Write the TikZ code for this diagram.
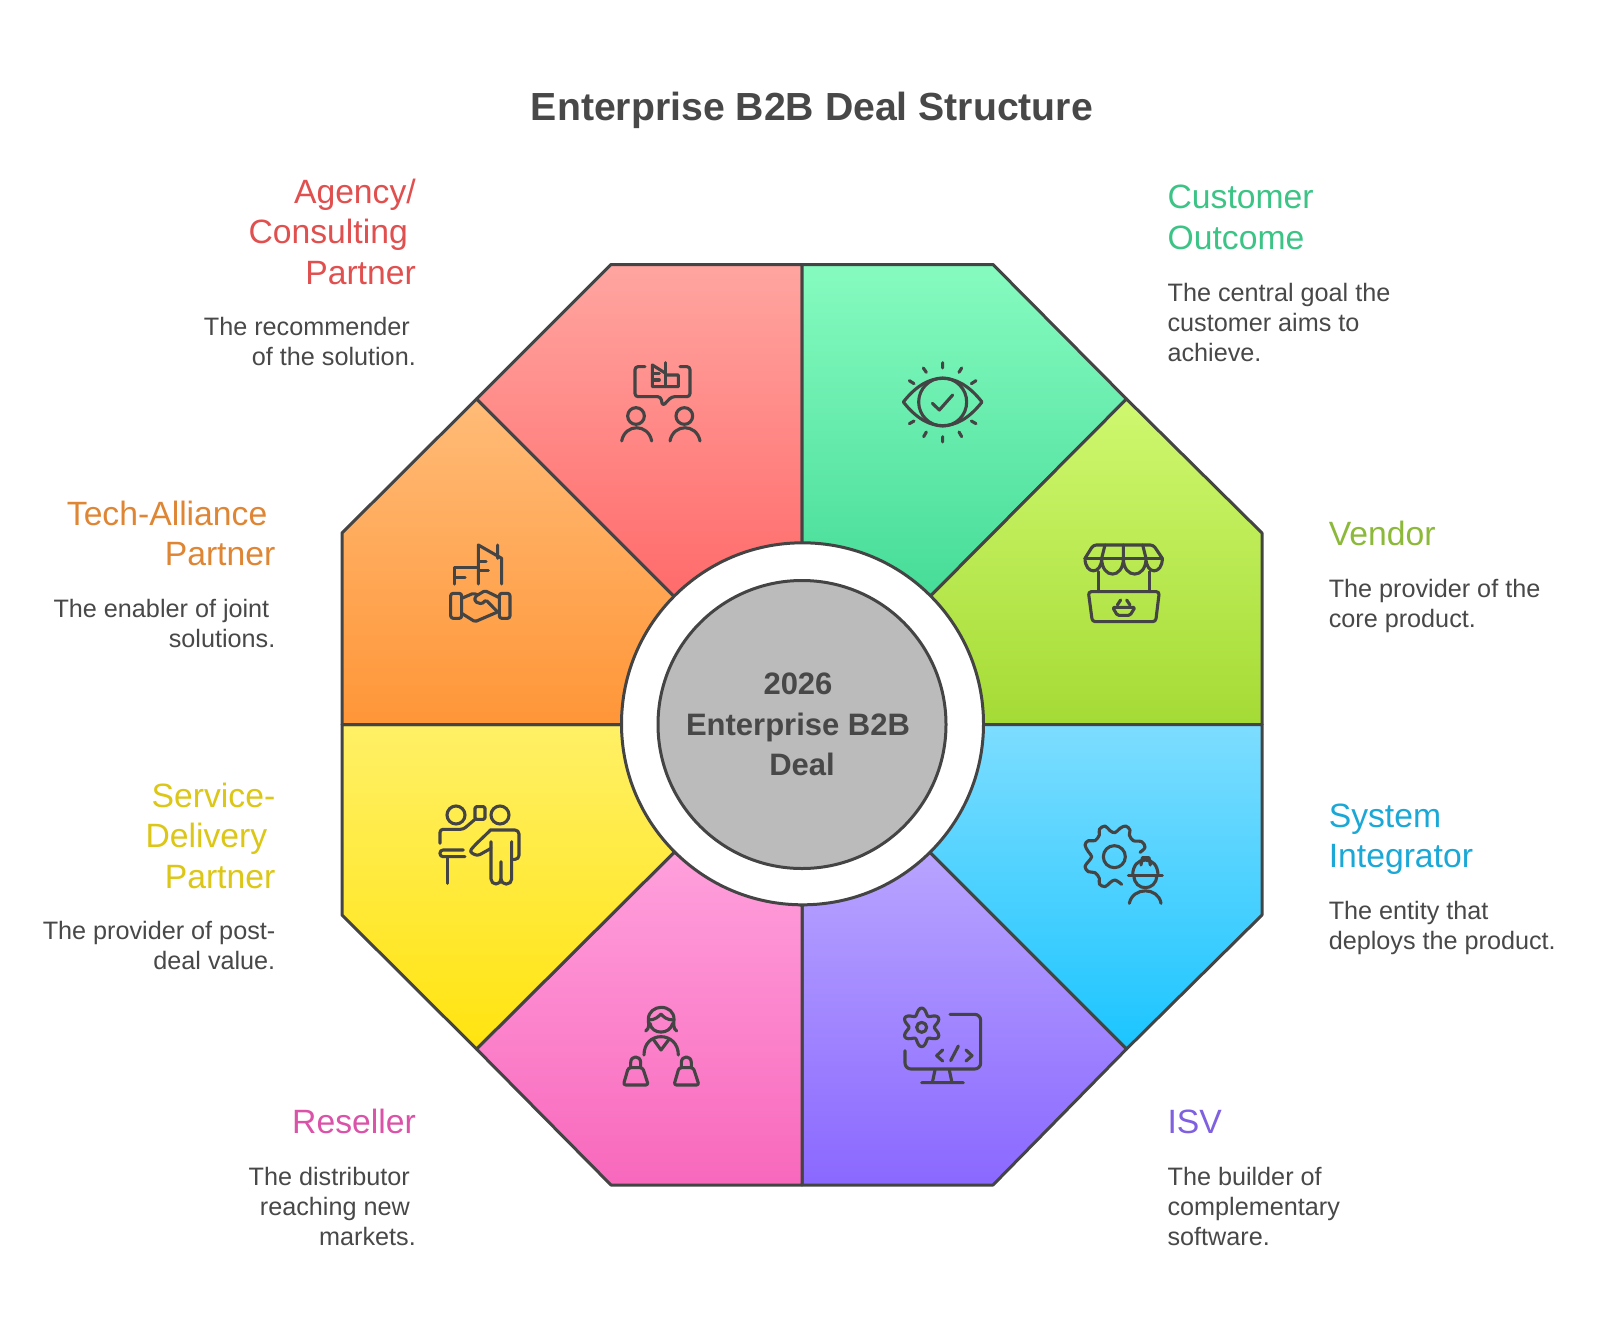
\documentclass[tikz,border=0pt]{standalone}
\usepackage{fontspec}
\setmainfont{Liberation Sans}
\newcommand{\titlefont}{\fontsize{39.2}{48}\bfseries\selectfont}
\newcommand{\hubfont}{\fontsize{31}{40.3}\bfseries\selectfont}
\newcommand{\labfont}{\fontsize{33.7}{40.3}\selectfont}
\newcommand{\descfont}{\fontsize{25.2}{30}\selectfont}
\definecolor{ink}{HTML}{444444}
\definecolor{txt}{HTML}{484848}
\definecolor{hubgray}{HTML}{BBBBBB}
\definecolor{redT}{RGB}{255,165,160}\definecolor{redB}{RGB}{255,107,107}\definecolor{redL}{RGB}{224,80,79}
\definecolor{greenT}{RGB}{134,251,192}\definecolor{greenB}{RGB}{70,220,152}\definecolor{greenL}{RGB}{60,196,134}
\definecolor{limeT}{RGB}{207,248,111}\definecolor{limeB}{RGB}{165,219,53}\definecolor{limeL}{RGB}{141,185,58}
\definecolor{blueT}{RGB}{125,221,255}\definecolor{blueB}{RGB}{27,197,255}\definecolor{blueL}{RGB}{28,168,214}
\definecolor{purpT}{RGB}{184,164,255}\definecolor{purpB}{RGB}{138,104,255}\definecolor{purpL}{RGB}{126,96,224}
\definecolor{pinkT}{RGB}{255,160,220}\definecolor{pinkB}{RGB}{248,104,188}\definecolor{pinkL}{RGB}{219,83,168}
\definecolor{yellT}{RGB}{255,240,102}\definecolor{yellB}{RGB}{255,228,15}\definecolor{yellL}{RGB}{220,198,22}
\definecolor{oranT}{RGB}{255,187,119}\definecolor{oranB}{RGB}{255,150,56}\definecolor{oranL}{RGB}{223,134,53}
\tikzset{
  x=1pt,y=-1pt,
  sector/.style={draw=ink,line width=3pt,line join=round,top color=#1T,bottom color=#1B},
  icon/.style={shift={(#1)},scale=1/3,x=1pt,y=-1pt,draw=ink,line width=3.1pt,line cap=round,line join=round},
  lab/.style={font=\labfont,inner sep=0pt,text=#1},
  descr/.style={font=\descfont,inner sep=0pt,text=txt},
  lefttext/.style={anchor=north west,align=left},
  righttext/.style={anchor=north east,align=right},
}
\begin{document}
\begin{tikzpicture}
\useasboundingbox (0,0) rectangle (1600,1333);
\fill[white] (0,0) rectangle (1600,1333);
\coordinate (C) at (802.5,723.8);
\coordinate (H) at (802,724.5);
% sectors
\path[sector=red] (802,264.5) -- (611,264.5) -- (476.5,399) -- (674,596.5) -- (802,543.5) -- cycle;
\path[sector=green] (802,264.5) -- (993,264.5) -- (1126.5,399) -- (930,596.5) -- (802,543.5) -- cycle;
\path[sector=lime] (1126.5,399) -- (1262,533) -- (1262,724.5) -- (983,724.5) -- (930,596.5) -- cycle;
\path[sector=blue] (1262,724.5) -- (1262,915) -- (1126.5,1049) -- (930,852.5) -- (983,724.5) -- cycle;
\path[sector=purp] (1126.5,1049) -- (993,1185) -- (802,1185) -- (802,905.5) -- (930,852.5) -- cycle;
\path[sector=pink] (802,1185) -- (611,1185) -- (476.5,1049) -- (674,852.5) -- (802,905.5) -- cycle;
\path[sector=yell] (476.5,1049) -- (342,915) -- (342,724.5) -- (621,724.5) -- (674,852.5) -- cycle;
\path[sector=oran] (342,724.5) -- (342,533) -- (476.5,399) -- (674,596.5) -- (621,724.5) -- cycle;
\draw[ink,line width=3pt,fill=white] (C) circle (181);
\node[circle,draw=ink,line width=3pt,fill=hubgray,minimum size=288pt,inner sep=0pt,font=\hubfont,text=txt,align=center] (hub) at (H) {2026\kern8pt\\Enterprise B2B\kern8pt\\Deal};
% title
\node[font=\titlefont,text=txt,inner sep=0pt,anchor=base] (title) at (812,120) {Enterprise B2B Deal Structure};
% labels
\node[lab=redL,righttext] (agency) at (416,175) {\strut Agency/\\Consulting\kern8pt\\Partner};
\node[descr,righttext] (agencyd) at (416,314.5) {\strut The recommender\kern6pt\\of the solution.};
\node[lab=greenL,lefttext] (cust) at (1167.4,180.3) {\strut Customer\\Outcome};
\node[descr,lefttext] (custd) at (1167.4,280) {\strut The central goal the\\customer aims to\\achieve.};
\node[lab=limeL,lefttext] (vendor) at (1328.6,517) {\strut Vendor};
\node[descr,lefttext] (vendord) at (1328.6,576) {\strut The provider of the\\core product.};
\node[lab=blueL,lefttext] (si) at (1328.6,799) {\strut System\\Integrator};
\node[descr,lefttext] (sid) at (1328.6,898) {\strut The entity that\\deploys the product.};
\node[lab=purpL,lefttext] (isv) at (1167.4,1105) {\strut ISV};
\node[descr,lefttext] (isvd) at (1167.4,1164.5) {\strut The builder of\\complementary\\software.};
\node[lab=pinkL,righttext] (resl) at (416,1105) {\strut Reseller};
\node[descr,righttext] (resld) at (416,1164.5) {\strut The distributor\kern6pt\\reaching new\kern6pt\\markets.};
\node[lab=yellL,righttext] (serv) at (275.5,779) {\strut Service-\\Delivery\kern8pt\\Partner};
\node[descr,righttext] (servd) at (275.5,918.6) {\strut The provider of post-\\deal value.};
\node[lab=oranL,righttext] (tech) at (275.5,497) {\strut Tech-Alliance\kern8pt\\Partner};
\node[descr,righttext] (techd) at (275.5,596) {\strut The enabler of joint\kern6pt\\solutions.};
% icon agency
\begin{scope}[icon={600,340}]
\draw[rounded corners=3pt] (135,80) -- (105,80) -- (105,170) -- (182,170) -- (188,198) -- (215,170) -- (270,170) -- (270,80) -- (240,80);
\draw (197,105) -- (235,105) -- (235,140) -- (157,140) -- (157,75) -- (197,100);
\draw (197,68) -- (197,140);
\draw (160,100) -- (178,100) (160,120) -- (178,120);
\draw (108,228) circle (25) (253,228) circle (25);
\draw (65,303) .. controls (75,250) and (145,250) .. (155,303);
\draw (210,303) .. controls (220,250) and (290,250) .. (300,303);
\end{scope}
% icon eye
\begin{scope}[icon={880,340}]
\draw (70,186) .. controls (110,135) and (150,115) .. (188,115) .. controls (226,115) and (266,135) .. (306,186) .. controls (266,237) and (226,257) .. (188,257) .. controls (150,257) and (110,237) .. (70,186) -- cycle;
\draw (188,186) circle (72);
\draw (157,190) -- (178,210) -- (218,165);
\draw (188,68) -- (188,84) (188,290) -- (188,306) (130,84) -- (139,97) (245,84) -- (237,97) (88,122) -- (102,131) (288,122) -- (274,131) (88,251) -- (102,243) (288,251) -- (274,243) (131,290) -- (139,276) (245,290) -- (237,276);
\end{scope}
% icon vendor
\begin{scope}[icon={1060,530}]
\draw[rounded corners=3pt] (75,85) -- (100,45) -- (280,45) -- (307,85);
\draw (75,85) -- (307,85);
\draw (135,45) -- (125,85) (190,45) -- (190,85) (248,45) -- (258,85);
\draw (75,85) .. controls (75,135) and (125,135) .. (125,85) .. controls (125,148) and (190,148) .. (190,85) .. controls (190,148) and (258,148) .. (258,85) .. controls (258,135) and (307,135) .. (307,85);
\draw (115,125) -- (115,185) (268,125) -- (268,185);
\draw[rounded corners=3pt] (85,185) -- (298,185) -- (287,275) -- (97,275) -- cycle;
\draw[rounded corners=1.5pt] (158,232) -- (225,232) -- (210,256) -- (172,256) -- cycle;
\draw (172,225) -- (182,210) (210,225) -- (200,210);
\end{scope}
% icon SI
\begin{scope}[icon={1060,810}]
\draw (163,140) circle (33);
\draw plot[smooth,tension=0.6] coordinates {(240,127) (255,112) (245,95) (220,92) (208,75) (210,60) (197,48) (180,55) (165,68) (150,62) (135,48) (118,58) (118,75) (105,92) (85,92) (75,105) (85,125) (95,140) (85,155) (75,170) (85,185) (105,188) (118,205) (118,222) (135,230) (150,218) (165,210) (185,223)};
\draw (205,197) -- (307,197);
\draw (218,197) .. controls (218,165) and (235,150) .. (256,150) .. controls (277,150) and (294,165) .. (294,197);
\draw (243,165) -- (247,143) -- (267,143) -- (271,165);
\draw (222,197) .. controls (222,245) and (290,245) .. (290,197);
\draw (208,280) .. controls (218,230) and (295,230) .. (303,280);
\end{scope}
% icon ISV
\begin{scope}[icon={880,990}]
\draw (125,112) circle (15);
\draw plot[smooth,samples=73,domain=0:360] ({125+(48-10*cos(6*\x))*cos(\x)},{112+(48-10*cos(6*\x))*sin(\x)});
\draw[rounded corners=6pt] (210,73) -- (302,73) -- (302,237) -- (75,237) -- (75,182);
\draw (165,240) -- (157,278) (208,240) -- (216,278) (125,278) -- (250,278);
\draw (188,180) -- (170,197) -- (188,213) (212,212) -- (235,168) (258,180) -- (276,197) -- (258,213);
\end{scope}
% icon reseller
\begin{scope}[icon={600,990}]
\draw (137,123) .. controls (150,115) and (145,100) .. (145,88) .. controls (145,65) and (165,52) .. (183,52) .. controls (205,52) and (222,65) .. (222,88) .. controls (222,100) and (218,115) .. (230,123);
\draw (147,90) .. controls (165,90) and (175,80) .. (183,72) .. controls (190,80) and (200,90) .. (220,90);
\draw (150,100) .. controls (155,135) and (210,135) .. (218,100);
\draw (132,195) .. controls (132,160) and (155,140) .. (183,140) .. controls (210,140) and (235,160) .. (235,195);
\draw (160,148) -- (183,180) -- (207,148);
\foreach \dx in {0,152}{
\draw[xshift=\dx,rounded corners=2.5pt] (85,233) -- (128,233) -- (145,285) -- (70,285) -- cycle;
\draw[xshift=\dx] (92,233) -- (92,218) .. controls (92,195) and (122,195) .. (122,218) -- (122,233);
}
\end{scope}
% icon service
\begin{scope}[icon={420,790}]
\draw (108,75) circle (27) (240,75) circle (27);
\draw[rounded corners=3pt] (60,160) -- (60,118) -- (130,118) -- (165,88);
\draw[rounded corners=1.5pt] (165,88) -- (195,88) -- (195,50) -- (165,50) -- cycle;
\draw[rounded corners=3pt] (130,180) -- (60,180) -- (60,200) -- (135,200);
\draw (83,200) -- (83,280);
\draw[rounded corners=4pt] (210,120) -- (297,120) -- (297,208) -- (277,208);
\draw[rounded corners=5pt] (275,155) -- (275,282) -- (243,282) -- (243,215);
\draw[rounded corners=5pt] (243,270) -- (243,282) -- (213,282) -- (213,155);
\draw[rounded corners=3pt] (213,175) -- (172,198) -- (148,185) -- (165,165) -- (210,122);
\end{scope}
% icon tech
\begin{scope}[icon={420,530}]
\draw (175,162) -- (175,45) -- (245,85) -- (245,162) (233,45) -- (233,85);
\draw (178,95) -- (198,95) (178,122) -- (205,122);
\draw (103,162) -- (103,112) -- (170,112) (105,142) -- (135,142);
\draw[rounded corners=2.5pt] (92,190) rectangle (125,265);
\draw[rounded corners=2.5pt] (238,190) rectangle (270,265);
\draw[rounded corners=1.5pt] (125,205) -- (160,190) -- (172,194);
\draw[rounded corners=1.5pt] (238,203) -- (195,182) -- (165,200) -- (165,215) -- (185,222) -- (198,210) -- (232,245);
\draw[rounded corners=1.5pt] (125,250) -- (165,275) -- (235,245);
\end{scope}
\end{tikzpicture}
\end{document}
